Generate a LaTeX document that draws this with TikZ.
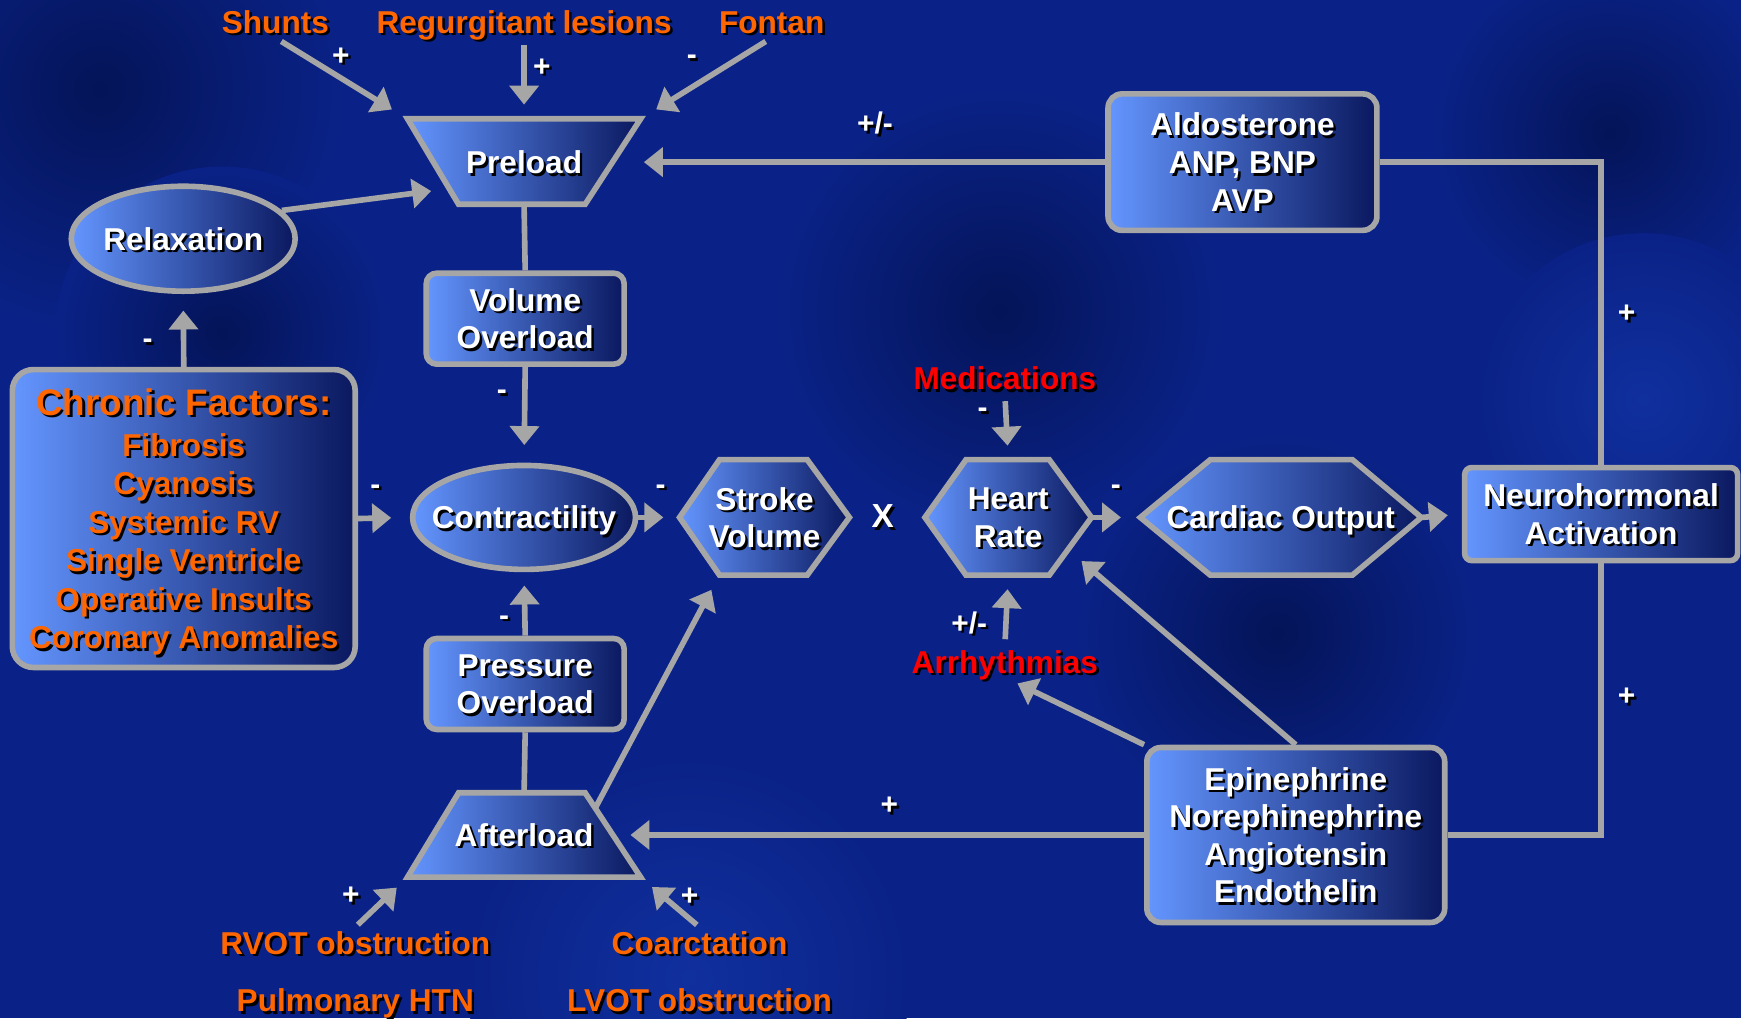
\documentclass[tikz,border=0pt]{standalone}
\usepackage{fontspec}
\setmainfont{Liberation Sans}
\usetikzlibrary{shapes.geometric,arrows.meta}

\definecolor{bgblue}{RGB}{10,34,135}
\definecolor{bgdark}{RGB}{4,20,88}
\definecolor{bglight}{RGB}{16,48,158}
\definecolor{hiblue}{RGB}{100,150,255}
\definecolor{loblue}{RGB}{10,24,95}
\definecolor{linegray}{RGB}{166,166,166}
\definecolor{lblorange}{RGB}{255,102,0}
\definecolor{lblred}{RGB}{255,0,0}

% text with a drop shadow
\newcommand\shd[1]{\leavevmode\rlap{\kern0.7pt\raisebox{-0.7pt}{\textcolor{black}{#1}}}#1}

\begin{document}
\begin{tikzpicture}[x=0.011103cm, y=-0.011103cm,
  box/.style={draw=linegray, line width=1.6pt, left color=hiblue, right color=loblue, text=white, align=center, font=\bfseries\fontsize{9}{10.7}\selectfont, inner sep=0pt, text depth=0pt},
  oval/.style={box, ellipse},
  shapebody/.style={draw=linegray, line width=1.6pt, left color=hiblue, right color=loblue},
  shapelabel/.style={text=white, align=center, font=\bfseries\fontsize{9}{10.7}\selectfont, inner sep=0pt, text depth=0pt},
  lbl/.style={text=lblorange, font=\bfseries\fontsize{9}{10.7}\selectfont, inner sep=1pt, text height=6.45pt, text depth=0pt},
  redlbl/.style={lbl, text=lblred},
  sgn/.style={text=white, font=\bfseries\fontsize{8.5}{10}\selectfont, inner sep=0pt},
  arr/.style={draw=linegray, line width=1.6pt, -{Triangle[length=5.4pt,width=8.2pt]}},
  link/.style={draw=linegray, line width=1.6pt}]

% background
\useasboundingbox (0,0) rectangle (1568,917);
\begin{scope}
\clip (0,0) rectangle (1568,917);
\fill[bgblue] (0,0) rectangle (1568,917);
\shade[inner color=bgdark, outer color=bgblue] (90,80) circle (220);
\shade[inner color=bgdark, outer color=bgblue] (200,300) circle (150);
\shade[inner color=bgdark, outer color=bgblue] (900,280) circle (200);
\shade[inner color=bgdark, outer color=bgblue] (1150,570) circle (180);
\shade[inner color=bgdark, outer color=bgblue] (1450,120) circle (160);
\shade[inner color=bglight, outer color=bgblue] (1480,360) circle (150);
\shade[inner color=bglight, outer color=bgblue] (620,880) circle (200);
\end{scope}

% trapezoids and hexagons
\path[shapebody] (367,107) -- (577,107) -- (527,184) -- (413,184) -- cycle;
\path[shapebody] (413,714) -- (527,714) -- (577,790) -- (367,790) -- cycle;
\path[shapebody] (612,466) -- (648,414) -- (727,414) -- (765,466) -- (727,518) -- (648,518) -- cycle;
\path[shapebody] (833,466) -- (870,414) -- (945,414) -- (983,466) -- (945,518) -- (870,518) -- cycle;
\path[shapebody] (1027,466) -- (1090,414) -- (1218,414) -- (1280,466) -- (1218,518) -- (1090,518) -- cycle;
\coordinate (preL) at (404,170);
\coordinate (preR) at (553,146);
\coordinate (aftR) at (552,752);
\coordinate (aftUR) at (536,728);
\coordinate (hrLR) at (962,495);

% main nodes
\node[shapelabel, minimum width=2.33cm, minimum height=0.855cm] (pre) at (472,146) {\shd{Preload}};
\node[shapelabel, minimum width=2.33cm, minimum height=0.845cm] (aft) at (472,752) {\shd{Afterload}};
\node[oval, minimum width=2.24cm, minimum height=1.05cm] (relax) at (165,215) {\makebox[0pt]{\shd{Relaxation}}};
\node[box, rounded corners=3pt, minimum width=1.98cm, minimum height=0.91cm] (vol) at (473,287) {\shd{Volume}\\\shd{Overload}};
\node[box, rounded corners=3pt, minimum width=1.98cm, minimum height=0.91cm] (pres) at (473,616) {\shd{Pressure}\\\shd{Overload}};
\node[box, rounded corners=6pt, text=lblorange, font=\bfseries\fontsize{9}{10.95}\selectfont, minimum width=3.43cm, minimum height=2.98cm] (chron) at (165.5,467)
  {{\fontsize{10.5}{12}\selectfont\shd{Chronic Factors:}}\\[0.8pt]\shd{Fibrosis}\\\shd{Cyanosis}\\\shd{Systemic RV}\\\shd{Single Ventricle}\\\shd{Operative Insults}\\\shd{Coronary Anomalies}};
\node[oval, minimum width=2.23cm, minimum height=1.04cm] (con) at (472,466) {\makebox[0pt]{\shd{Contractility}}};
\node[shapelabel, minimum width=1.70cm, minimum height=1.155cm] (sv) at (688.5,466) {\shd{Stroke}\\\shd{Volume}};
\node[sgn, font=\bfseries\fontsize{9.5}{11}\selectfont] (times) at (795,466) {\shd{X}};
\node[shapelabel, minimum width=1.665cm, minimum height=1.155cm] (hr) at (908,466) {\shd{Heart}\\\shd{Rate}};
\node[shapelabel, minimum width=2.81cm, minimum height=1.155cm] (co) at (1153.5,466) {\shd{Cardiac Output}};
\node[box, rounded corners=2pt, minimum width=2.73cm, minimum height=0.93cm] (neuro) at (1442,463) {\shd{Neurohormonal}\\\shd{Activation}};
\node[box, rounded corners=4pt, minimum width=2.69cm, minimum height=1.365cm] (ald) at (1119,146) {\shd{Aldosterone}\\\shd{ANP, BNP}\\\shd{AVP}};
\node[box, rounded corners=4pt, minimum width=2.98cm, minimum height=1.75cm] (epi) at (1167,752) {\shd{Epinephrine}\\\shd{Norephinephrine}\\\shd{Angiotensin}\\\shd{Endothelin}};

% outside factors
\node[lbl] (shunts) at (248,20) {\shd{Shunts}};
\node[lbl] (regur) at (472,20) {\shd{Regurgitant lesions}};
\node[lbl] (fontan) at (695,20) {\shd{Fontan}};
\node[redlbl] (med) at (905,341) {\shd{Medications}};
\node[redlbl] (arrh) at (905,596) {\shd{Arrhythmias}};
\node[lbl] (rvot) at (320,849) {\shd{RVOT obstruction}};
\node[lbl] (pulm) at (320,901) {\shd{Pulmonary HTN}};
\node[lbl] (coarc) at (630,849) {\shd{Coarctation}};
\node[lbl] (lvot) at (630,901) {\shd{LVOT obstruction}};

% signs
\node[sgn] (sShunt) at (307,52) {\shd{+}};
\node[sgn] (sRegur) at (488,62) {\shd{+}};
\node[sgn] (sFontan) at (623,55) {\shd{-}};
\node[sgn] (sAld) at (788,112) {\shd{+/-}};
\node[sgn] (sRelax) at (133,311) {\shd{-}};
\node[sgn] (sVol) at (452,357) {\shd{-}};
\node[sgn] (sChron) at (338,442) {\shd{-}};
\node[sgn] (sCon) at (595,442) {\shd{-}};
\node[sgn] (sPres) at (454,560) {\shd{-}};
\node[sgn] (sMed) at (885,373) {\shd{-}};
\node[sgn] (sArrh) at (873,562) {\shd{+/-}};
\node[sgn] (sHr) at (1005,442) {\shd{-}};
\node[sgn] (sNeuroN) at (1465,284) {\shd{+}};
\node[sgn] (sNeuroS) at (1465,629) {\shd{+}};
\node[sgn] (sEpi) at (801,727) {\shd{+}};
\node[sgn] (sRvot) at (316,808) {\shd{+}};
\node[sgn] (sCoarc) at (621,809) {\shd{+}};

% connectors
\draw[arr, shorten <=2pt, shorten >=5pt] (shunts.south) -- (pre.north west);
\draw[arr, shorten <=2pt, shorten >=4pt] (regur.south) -- (pre.north);
\draw[arr, shorten <=2pt, shorten >=5pt] (fontan.south) -- (pre.north east);
\draw[arr, shorten >=5pt] (relax.16) -- (preL);
\draw[arr, shorten >=8.5pt] (ald.west) -- (preR);
\draw[link] (ald.east) -| (neuro.north);
\draw[link] (pre.south) -- (vol.north);
\draw[arr, shorten >=5pt] (vol.south) -- (con.north);
\draw[arr, shorten >=4.7pt] (chron.north) -- (relax.south);
\draw[arr, shorten >=5.3pt] (chron.east) -- (con.west);
\draw[arr, shorten >=4.4pt] (con.east) -- (sv.west);
\draw[arr, shorten >=3.8pt] (pres.north) -- (con.south);
\draw[link] (pres.south) -- (aft.north);
\draw[arr, shorten >=4.5pt] (aftUR) -- (sv.232);
\draw[arr, shorten <=2pt, shorten >=3.8pt] (med.south) -- (hr.north);
\draw[arr, shorten <=2pt, shorten >=3.8pt] (arrh.north) -- (hr.south);
\draw[arr, shorten >=5.3pt] (hr.east) -- (co.west);
\draw[arr, shorten >=4pt] (co.east) -- (neuro.west);
\draw[link] (neuro.south) |- (epi.east);
\draw[arr, shorten >=5pt] (epi.west) -- (aftR);
\draw[arr, shorten >=5pt] (epi.north) -- (hrLR);
\draw[arr, shorten >=4pt] (epi.north west) -- (arrh.south);
\draw[arr, shorten <=1pt, shorten >=4pt] (rvot.north) -- (aft.south west);
\draw[arr, shorten <=1pt, shorten >=4pt] (coarc.north) -- (aft.south east);
\end{tikzpicture}
\end{document}
